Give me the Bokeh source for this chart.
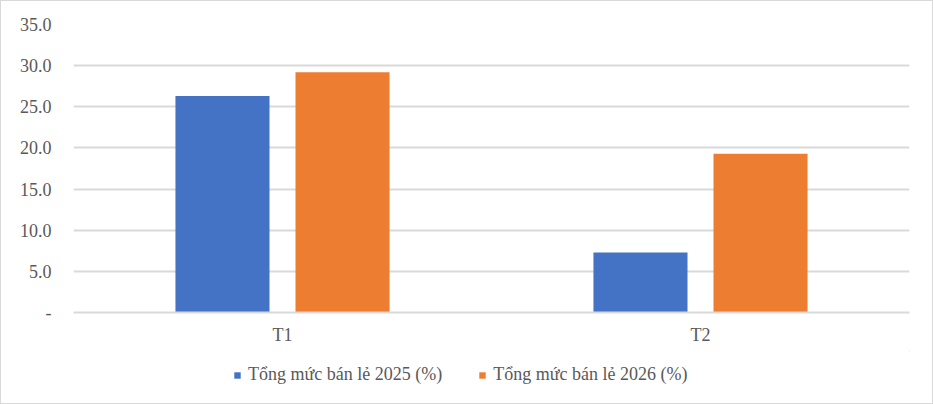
from bokeh.plotting import figure
from bokeh.layouts import column
from bokeh.models import FactorRange, ColumnDataSource, FixedTicker, Legend, LegendItem
from bokeh.transform import dodge
from bokeh.embed import file_html
from bokeh.resources import INLINE

categories = ["T1", "T2"]
series_names = ["Tổng mức bán lẻ 2025 (%)", "Tổng mức bán lẻ 2026 (%)"]
series_colors = ["#4472C4", "#ED7D31"]
values_2025 = [26.3, 7.3]
values_2026 = [29.2, 19.3]
y_ticks = [0, 5, 10, 15, 20, 25, 30, 35]
y_tick_labels = ["-", "5.0", "10.0", "15.0", "20.0", "25.0", "30.0", "35.0"]

FONT = "Liberation Serif"
TXT = "#595959"
GRID = "#D9D9D9"

src = ColumnDataSource(dict(cat=categories, a=values_2025, b=values_2026))

p = figure(x_range=FactorRange(*categories), y_range=(0, 35),
           width=931, height=350, output_backend="svg", toolbar_location=None,
           min_border_left=72, min_border_right=23, min_border_top=23, min_border_bottom=39)
p.outline_line_color = None

p.vbar(x=dodge("cat", -0.1436, range=p.x_range), top="a", width=0.225, source=src,
       fill_color=series_colors[0], line_color=None)
p.vbar(x=dodge("cat", 0.1436, range=p.x_range), top="b", width=0.225, source=src,
       fill_color=series_colors[1], line_color=None)

p.yaxis.ticker = FixedTicker(ticks=y_ticks)
p.yaxis.major_label_overrides = {t: l for t, l in zip(y_ticks, y_tick_labels)}
p.yaxis.axis_line_color = None
p.yaxis.major_tick_line_color = None
p.yaxis.minor_tick_line_color = None
p.yaxis.major_label_standoff = 16
p.yaxis.major_label_text_font = FONT
p.yaxis.major_label_text_font_size = "18px"
p.yaxis.major_label_text_color = TXT

p.xaxis.axis_line_color = GRID
p.xaxis.axis_line_width = 2
p.xaxis.major_tick_line_color = None
p.xaxis.minor_tick_line_color = None
p.xaxis.major_label_standoff = 6
p.xaxis.major_label_text_font = FONT
p.xaxis.major_label_text_font_size = "18px"
p.xaxis.major_label_text_color = TXT

p.xgrid.grid_line_color = None
p.ygrid.grid_line_color = GRID
p.ygrid.grid_line_width = 2

# legend strip (dummy off-range renderers only provide the legend swatches)
lf = figure(width=931, height=52, x_range=(0, 1), y_range=(0, 1),
            output_backend="svg", toolbar_location=None,
            x_axis_type=None, y_axis_type=None,
            min_border=0, min_border_left=0, min_border_right=0,
            min_border_top=0, min_border_bottom=0)
lf.outline_line_color = None
lf.grid.grid_line_color = None
d1 = lf.vbar(x=[5], top=[5], bottom=[4], width=0.1, fill_color=series_colors[0], line_color=None)
d2 = lf.vbar(x=[5], top=[5], bottom=[4], width=0.1, fill_color=series_colors[1], line_color=None)

legend = Legend(items=[LegendItem(label=series_names[0], renderers=[d1]),
                       LegendItem(label=series_names[1], renderers=[d2])],
                orientation="horizontal", location=(160, 18),
                label_text_font=FONT, label_text_font_size="18px", label_text_color=TXT,
                glyph_width=8, glyph_height=8, label_standoff=7, spacing=36,
                border_line_color=None, background_fill_alpha=0, padding=4, margin=0)
lf.add_layout(legend, "center")

layout = column(p, lf, spacing=0, styles={"border": "1px solid #D9D9D9"})

open("out.html", "w").write(file_html(layout, INLINE))
